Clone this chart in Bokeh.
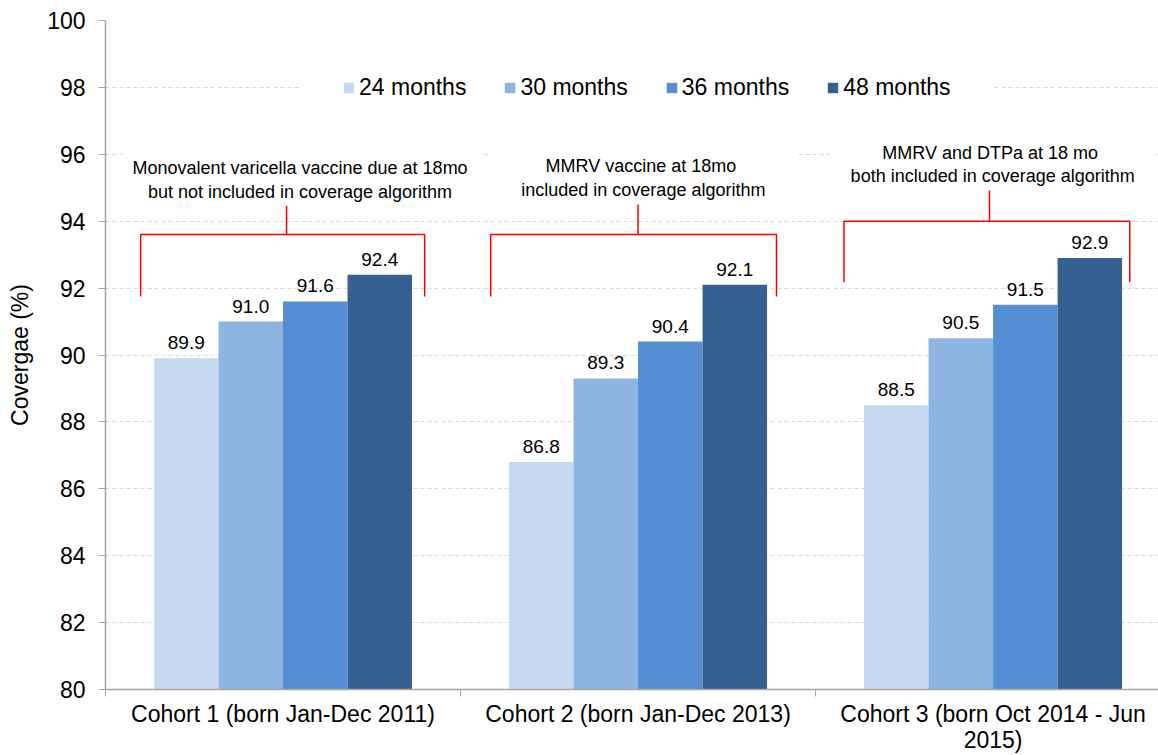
from bokeh.plotting import figure
from bokeh.models import (Range1d, FixedTicker, Legend, LegendItem, Label,
                          ColumnDataSource, BoxAnnotation)
from bokeh.core.properties import value
from bokeh.embed import file_html
from bokeh.resources import INLINE

# ---- data -------------------------------------------------------------
cohorts = [
    "Cohort 1 (born Jan-Dec 2011)",
    "Cohort 2 (born Jan-Dec 2013)",
    "Cohort 3 (born Oct 2014 - Jun\n2015)",
]
ages = ["24 months", "30 months", "36 months", "48 months"]
cov_24 = [89.9, 86.8, 88.5]
cov_30 = [91.0, 89.3, 90.5]
cov_36 = [91.6, 90.4, 91.5]
cov_48 = [92.4, 92.1, 92.9]
notes = [
    "Monovalent  varicella vaccine due at 18mo\nbut  not included in coverage algorithm",
    "MMRV  vaccine at 18mo\nincluded in coverage algorithm",
    "MMRV  and DTPa at 18 mo\nboth included in coverage algorithm",
]
y_ticks = [80, 82, 84, 86, 88, 90, 92, 94, 96, 98, 100]

series = [cov_24, cov_30, cov_36, cov_48]
colors = ["#C6D9F1", "#8EB4E3", "#558ED5", "#376092"]
FONT = "Liberation Sans"

# ---- figure -----------------------------------------------------------
p = figure(width=1158, height=755, output_backend="svg", toolbar_location=None,
           x_range=Range1d(0, 2.966), y_range=Range1d(80, 100),
           min_border_left=105, min_border_right=0, min_border_top=20,
           min_border_bottom=66)
p.outline_line_color = None
p.background_fill_color = "white"
p.border_fill_color = "white"

# grid
p.xgrid.grid_line_color = None
p.ygrid.ticker = FixedTicker(ticks=y_ticks)
p.ygrid.grid_line_color = "#d9d9d9"
p.ygrid.grid_line_dash = "4 3"
p.ygrid.grid_line_width = 1

# white strip behind the legend row
p.add_layout(BoxAnnotation(left=0.549, right=2.501, bottom=97.6, top=98.4,
                           fill_color="white", fill_alpha=1.0,
                           line_color=None, level="underlay"))

# y axis
ya = p.yaxis[0]
ya.ticker = FixedTicker(ticks=y_ticks)
ya.axis_line_color = "#a6a6a6"
ya.axis_line_width = 1.5
ya.major_tick_line_color = "#a6a6a6"
ya.major_tick_out = 7
ya.major_tick_in = 0
ya.minor_tick_line_color = None
ya.major_label_text_font = FONT
ya.major_label_text_font_size = "23px"
ya.major_label_text_color = "black"
ya.major_label_standoff = 13
ya.axis_label = "Covergae (%)"
ya.axis_label_text_font = FONT
ya.axis_label_text_font_size = "23px"
ya.axis_label_text_font_style = "normal"
ya.axis_label_text_color = "black"
ya.axis_label_standoff = 11

# x axis: labels at cohort centres, ticks at cohort boundaries
xa = p.xaxis[0]
xa.ticker = FixedTicker(ticks=[0.5, 1.5, 2.5], minor_ticks=[0, 1, 2, 3])
xa.major_label_overrides = {i + 0.5: c for i, c in enumerate(cohorts)}
xa.axis_line_color = "#a6a6a6"
xa.axis_line_width = 1.5
xa.major_tick_line_color = None
xa.major_tick_out = 0
xa.major_tick_in = 0
xa.minor_tick_line_color = "#a6a6a6"
xa.minor_tick_out = 7
xa.minor_tick_in = 0
xa.major_label_text_font = FONT
xa.major_label_text_font_size = "23px"
xa.major_label_text_color = "black"
xa.major_label_text_line_height = 1.0
xa.major_label_standoff = 4

# ---- bars -------------------------------------------------------------
bar_w = 0.1817
offsets = [-1.5 * bar_w, -0.5 * bar_w, 0.5 * bar_w, 1.5 * bar_w]
renderers = []
for k, vals in enumerate(series):
    xs = [i + 0.5 + offsets[k] for i in range(len(cohorts))]
    src = ColumnDataSource(dict(x=xs, top=vals,
                                lab=["%.1f" % v for v in vals]))
    r = p.vbar(x="x", top="top", bottom=80, width=bar_w, source=src,
               fill_color=colors[k], line_color=None)
    renderers.append(r)
    p.text(x="x", y="top", text="lab", source=src, text_align="center",
           text_baseline="bottom", y_offset=-9, text_font=value(FONT),
           text_font_size="19px", text_color="black")

# ---- brackets with notes ----------------------------------------------
br_left = [0.099, 1.085, 2.080]
br_right = [0.899, 1.890, 2.885]
br_stem = [0.510, 1.500, 2.490]
br_top = [93.60, 93.60, 94.00]
br_leg = [91.75, 91.75, 92.18]
br_stem_top = [94.50, 94.50, 94.92]
note_x = [0.555, 1.515, 2.499]
note_y = [95.23, 95.29, 95.70]
note_pad = [10, 33, 18]

for i in range(len(cohorts)):
    p.multi_line(
        xs=[[br_left[i], br_left[i], br_right[i], br_right[i]],
            [br_stem[i], br_stem[i]]],
        ys=[[br_leg[i], br_top[i], br_top[i], br_leg[i]],
            [br_top[i], br_stem_top[i]]],
        line_color="#ff0000", line_width=1.5)
    p.add_layout(Label(x=note_x[i], y=note_y[i], text=notes[i],
                       text_align="center", text_baseline="middle",
                       text_font=FONT, text_font_size="18px",
                       text_color="black", text_line_height=1.17,
                       background_fill_color="white",
                       padding={"left": note_pad[i], "right": note_pad[i],
                                "top": 4, "bottom": 4}))

# ---- legend -----------------------------------------------------------
legend = Legend(
    items=[LegendItem(label=a, renderers=[r]) for a, r in zip(ages, renderers)],
    orientation="horizontal", location=(237, 588),
    glyph_width=13, glyph_height=13, label_standoff=4, spacing=37,
    padding=0, margin=0, border_line_color=None,
    background_fill_color="white", background_fill_alpha=1.0,
    label_text_font=FONT, label_text_font_size="23px",
    label_text_color="black")
p.add_layout(legend)

open("out.html", "w").write(file_html(p, INLINE))
